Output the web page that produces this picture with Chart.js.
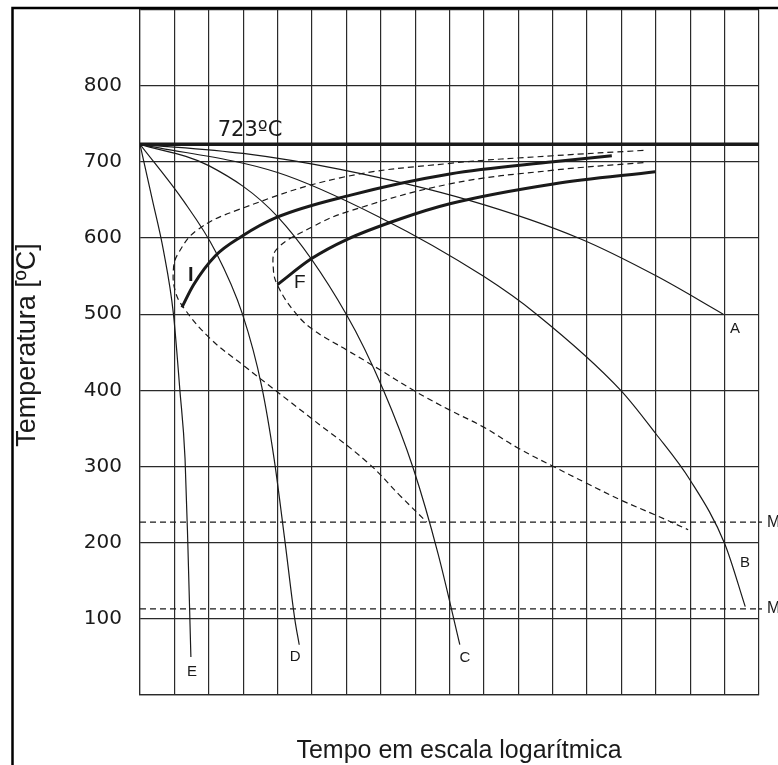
<!DOCTYPE html>
<html>
<head>
<meta charset="utf-8">
<script src="https://cdn.jsdelivr.net/npm/chart.js@4.4.1/dist/chart.umd.min.js"></script>
<style>
  html, body { margin: 0; padding: 0; background: #ffffff; }
  #wrap { width: 778px; height: 765px; position: relative; }
</style>
</head>
<body>
<div id="wrap"><canvas id="c" width="778" height="765"></canvas></div>
<script>
// ---- Data (x = time in logarithmic grid units, y = temperature in ºC) ----
const yTicks = [0, 100, 200, 300, 400, 500, 600, 700, 800, 900];
const xMax = 18;

const eutectoidT = 723;
const msT = 227;
const mfT = 113;

// Cooling curves
const curveA_x = [0, 3, 5.82, 9.6, 12.8, 15.02, 16.96];
const curveA_T = [723, 711, 690, 649, 599, 550, 500];

const curveB_x = [0, 4, 6.98, 9.98, 11.53, 13.98, 15.0, 16.0, 17.0, 17.6];
const curveB_T = [723, 686, 627, 550, 500, 400, 343, 282, 199, 116];

const curveC_x = [0, 2, 4.0, 6.01, 7.08, 7.95, 8.67, 9.3];
const curveC_T = [723, 695, 628, 499, 400, 297, 185, 66];

const curveD_x = [0, 1.26, 2.2, 2.98, 3.54, 3.9, 4.22, 4.5, 4.63];
const curveD_T = [723, 649, 582, 500, 405, 310, 200, 100, 66];

const curveE_x = [0, 0.36, 0.68, 0.97, 1.16, 1.31, 1.39, 1.45, 1.48];
const curveE_T = [723, 650, 584, 501, 400, 310, 200, 100, 50];

// Transformation start / end (dashed "C" curves)
const startDash_x = [14.64, 12.02, 9.01, 5.82, 2.91, 1.65, 1.09, 0.97, 1.02, 1.26, 2.04, 3.0, 4.99, 6.6, 7.6, 8.34];
const startDash_T = [715, 708, 698, 679, 638, 610, 578, 558, 531, 509, 468, 433, 363, 306, 260, 227];

const endDash_x = [14.64, 12.02, 9.01, 6.0, 4.99, 3.97, 3.88, 4.02, 4.46, 4.99, 6.01, 6.83, 7.99, 9.01, 9.98, 11.0, 12.02, 12.99, 13.98, 15.0, 15.94];
const endDash_T = [699, 689, 671, 634, 614, 585, 558, 536, 505, 481, 453, 431, 399, 374, 352, 324, 300, 278, 256, 236, 217];

// Thick curves I (início) and F (fim)
const curveI_x = [1.22, 1.55, 2.2, 2.95, 3.97, 6.1, 9.01, 12.02, 13.72];
const curveI_T = [509, 538, 577, 602, 627, 656, 684, 700, 708];

const curveF_x = [4.0, 4.99, 6.01, 7.56, 9.01, 12.02, 14.98];
const curveF_T = [539, 573, 598, 625, 645, 671, 687];

// Text labels (data coordinates)
const labelTexts = ['723ºC', 'I', 'F', 'A', 'B', 'C', 'D', 'E', 'Mi', 'Mf'];
const labelX     = [3.2, 1.48, 4.65, 17.3, 17.59, 9.45, 4.51, 1.51, 18.23, 18.23];
const labelT     = [741, 551, 541, 481, 173, 49, 50, 30, 227, 113];

const yTitle = 'Temperatura [ºC]';
const xTitle = 'Tempo em escala logarítmica';

// ---- Build ----
function pts(xs, ys) { return xs.map((x, i) => ({ x: x, y: ys[i] })); }
const INK = '#1a1a1a';

function line(xs, ys, width, dash, mode) {
  const ds = {
    data: pts(xs, ys), showLine: true, pointRadius: 0, borderColor: INK,
    borderWidth: width, borderDash: dash || [], fill: false
  };
  if (mode === 'straight') ds.tension = 0;
  else if (mode === 'smooth') ds.tension = 0.4;
  else { ds.cubicInterpolationMode = 'monotone'; ds.tension = 0.4; }
  return ds;
}

const datasets = [
  line([0, xMax], [eutectoidT, eutectoidT], 3.5, null, 'straight'),
  line([0, xMax], [msT, msT], 1.3, [6, 4], 'straight'),
  line([0, xMax], [mfT, mfT], 1.3, [6, 4], 'straight'),
  line(curveA_x, curveA_T, 1.2),
  line(curveB_x, curveB_T, 1.2),
  line(curveC_x, curveC_T, 1.2),
  line(curveD_x, curveD_T, 1.2),
  line(curveE_x, curveE_T, 1.2),
  line(startDash_x, startDash_T, 1.2, [6, 4], 'smooth'),
  line(endDash_x, endDash_T, 1.2, [6, 4], 'smooth'),
  line(curveI_x, curveI_T, 3),
  line(curveF_x, curveF_T, 3)
];

const decor = {
  id: 'decor',
  afterDraw(chart) {
    const ctx = chart.ctx;
    const xs = chart.scales.x, ys = chart.scales.y;
    ctx.save();
    // outer frame (top + left)
    ctx.strokeStyle = '#000';
    ctx.lineWidth = 2.5;
    ctx.beginPath();
    ctx.moveTo(12.5, 765);
    ctx.lineTo(12.5, 8);
    ctx.lineTo(778, 8);
    ctx.stroke();

    // Mi/Mf dashed extensions beyond the plot
    ctx.strokeStyle = INK; ctx.lineWidth = 1.3; ctx.setLineDash([6, 4]);
    [msT, mfT].forEach(t => {
      const py = ys.getPixelForValue(t);
      ctx.beginPath(); ctx.moveTo(chart.chartArea.right, py); ctx.lineTo(chart.chartArea.right + 3, py); ctx.stroke();
    });
    ctx.setLineDash([]);

    // labels
    ctx.fillStyle = INK;
    ctx.textBaseline = 'middle';
    labelTexts.forEach((t, i) => {
      const px = xs.getPixelForValue(labelX[i]);
      const py = ys.getPixelForValue(labelT[i]);
      let font = '15px "Liberation Sans", Arial, sans-serif';
      let align = 'center';
      if (t === '723ºC') font = '21px "DejaVu Sans", sans-serif';
      else if (t === 'I') font = 'bold 20px "Liberation Sans", Arial, sans-serif';
      else if (t === 'F') font = '19px "Liberation Sans", Arial, sans-serif';
      else if (t === 'Mi' || t === 'Mf') { align = 'left'; font = '16px "Liberation Sans", Arial, sans-serif'; }
      ctx.font = font; ctx.textAlign = align;
      ctx.fillText(t, px, py);
    });

    // axis titles
    ctx.font = '25px "Liberation Sans", Arial, sans-serif';
    ctx.textAlign = 'center';
    ctx.textBaseline = 'alphabetic';
    ctx.fillText(xTitle, 459, 758);

    ctx.save();
    ctx.translate(35, 345);
    ctx.rotate(-Math.PI / 2);
    ctx.font = '27px "Liberation Sans", Arial, sans-serif';
    ctx.fillText(yTitle, 0, 0);
    ctx.restore();

    ctx.restore();
  }
};

new Chart(document.getElementById('c'), {
  type: 'scatter',
  data: { datasets: datasets },
  options: {
    responsive: false,
    animation: false,
    events: [],
    layout: { padding: { left: 0, right: 19, top: 9.5, bottom: 0 } },
    plugins: { legend: { display: false }, tooltip: { enabled: false } },
    scales: {
      x: {
        type: 'linear', min: 0, max: xMax,
        ticks: { display: false, stepSize: 1 },
        grid: { color: '#2a2a2a', lineWidth: 1.2, drawTicks: false },
        border: { display: true, color: '#2a2a2a', width: 1.2 },
        afterFit(s) { s.height = 70; s.paddingLeft = 0; s.paddingRight = 0; }
      },
      y: {
        type: 'linear', min: 0, max: 900,
        afterBuildTicks(s) { s.ticks = yTicks.map(v => ({ value: v })); },
        ticks: {
          padding: 18,
          color: INK,
          font: { family: '"DejaVu Sans", sans-serif', size: 20 },
          callback: v => (v === 0 || v === 900) ? '' : String(v)
        },
        grid: { color: '#2a2a2a', lineWidth: 1.2, drawTicks: false },
        border: { display: true, color: '#2a2a2a', width: 1.2 },
        afterFit(s) { s.width = 140; s.paddingTop = 0; s.paddingBottom = 0; }
      }
    }
  },
  plugins: [decor]
});
</script>
</body>
</html>
